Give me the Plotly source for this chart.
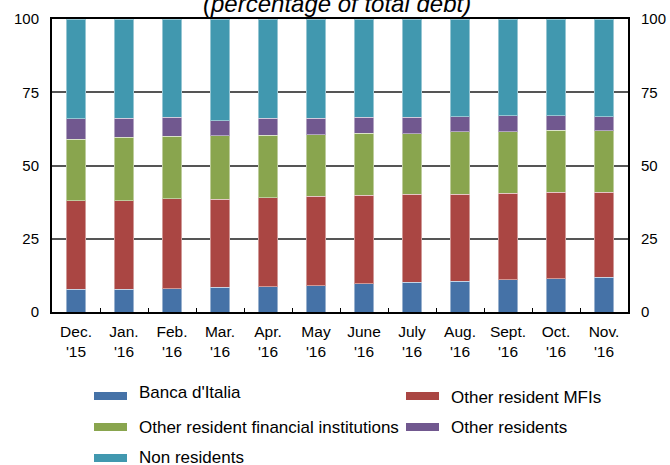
import plotly.graph_objects as go

months = ["Dec.<br>'15", "Jan.<br>'16", "Feb.<br>'16", "Mar.<br>'16", "Apr.<br>'16", "May<br>'16",
          "June<br>'16", "July<br>'16", "Aug.<br>'16", "Sept.<br>'16", "Oct.<br>'16", "Nov.<br>'16"]

banca_italia = [7.7, 7.8, 8.0, 8.4, 8.6, 9.0, 9.7, 10.2, 10.5, 11.0, 11.4, 11.8]
other_mfis = [30.3, 30.2, 30.6, 30.0, 30.4, 30.5, 30.2, 30.0, 29.7, 29.5, 29.4, 29.0]
other_fin_inst = [21.0, 21.6, 21.3, 21.8, 21.4, 21.0, 21.1, 20.7, 21.3, 21.1, 21.2, 21.1]
other_residents = [6.9, 6.6, 6.5, 5.0, 5.8, 5.7, 5.4, 5.5, 5.2, 5.3, 5.0, 4.7]
non_residents = [34.1, 33.8, 33.6, 34.8, 33.8, 33.8, 33.6, 33.6, 33.3, 33.1, 33.0, 33.4]

series_names = ["Banca d'Italia", "Other resident MFIs", "Other resident financial institutions",
                "Other residents", "Non residents"]
series_values = [banca_italia, other_mfis, other_fin_inst, other_residents, non_residents]
colors = ["#4572A7", "#AA4643", "#89A54E", "#71588F", "#4198AF"]

y_ticks = [0, 25, 50, 75, 100]

FONT = "Liberation Sans, Arial, sans-serif"

fig = go.Figure()
for name, vals, col in zip(series_names, series_values, colors):
    fig.add_trace(go.Bar(x=months, y=vals, name=name, marker=dict(color=col,
                         line=dict(color="rgba(255,255,255,0.45)", width=1)),
                         showlegend=False))
# invisible trace to drive the right axis
fig.add_trace(go.Bar(x=months, y=[0] * len(months), yaxis="y2", showlegend=False,
                     hoverinfo="skip", marker=dict(color="rgba(0,0,0,0)")))

W, H = 670, 465
L, R, T, B = 52, 42, 19, 153
pw, ph = W - L - R, H - T - B


def px_x(px):
    return (px - L) / pw


def px_y(py):
    return (H - B - py) / ph


shapes = []
annotations = []
# legend built from the series lists
leg_pos = [(94, 396, 393), (406, 396, 397), (94, 427, 427), (406, 427, 427), (94, 458, 458)]
for (sx, sy, ty), name, col in zip(leg_pos, series_names, colors):
    shapes.append(dict(type="rect", xref="paper", yref="paper",
                       x0=px_x(sx), x1=px_x(sx + 33), y0=px_y(sy + 4), y1=px_y(sy - 4),
                       fillcolor=col, line=dict(width=0)))
    annotations.append(dict(text=name, xref="paper", yref="paper", x=px_x(sx + 43), y=px_y(ty),
                            xanchor="left", yanchor="middle", showarrow=False,
                            font=dict(family=FONT, size=17, color="#000")))

annotations.append(dict(text="<i>(percentage of total debt)</i>", xref="paper", yref="paper",
                        x=px_x(337), y=px_y(3), xanchor="center", yanchor="middle",
                        showarrow=False, font=dict(family=FONT, size=24, color="#000")))

fig.update_layout(
    width=W, height=H,
    margin=dict(l=L, r=R, t=T, b=B),
    barmode="stack", bargap=0.6,
    paper_bgcolor="white", plot_bgcolor="white",
    font=dict(family=FONT, size=15, color="#000"),
    xaxis=dict(type="category", showline=True, linecolor="#000", linewidth=2, mirror=True,
               ticks="inside", tickson="boundaries", ticklen=4, tickcolor="#000", tickwidth=1,
               showgrid=False, tickfont=dict(size=15.5), ticklabelstandoff=4, automargin=False),
    yaxis=dict(range=[0, 100], tickvals=y_ticks, showline=True, linecolor="#000", linewidth=2,
               mirror=True, showgrid=True, gridcolor="#555", gridwidth=1.5, ticks="",
               ticklabelstandoff=8, zeroline=False, tickfont=dict(size=15), automargin=False),
    yaxis2=dict(range=[0, 100], tickvals=y_ticks, overlaying="y", side="right", showgrid=False,
                ticks="outside", ticklen=9, tickcolor="rgba(0,0,0,0)", zeroline=False,
                showline=False, tickfont=dict(size=15), automargin=False),
    shapes=shapes,
    annotations=annotations,
)

fig.write_html("out.html")
